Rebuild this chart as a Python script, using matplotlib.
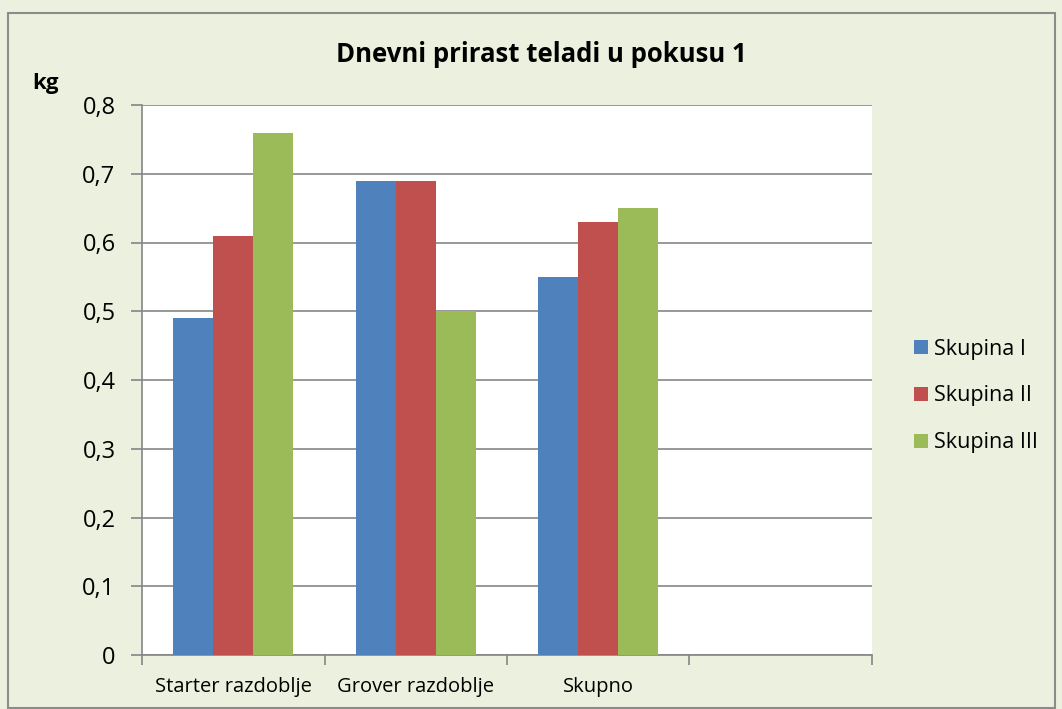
import matplotlib
matplotlib.use("Agg")
import matplotlib.pyplot as plt
import numpy as np
from matplotlib.patches import Rectangle

categories = ["Starter razdoblje", "Grover razdoblje", "Skupno", ""]
series_names = ["Skupina I", "Skupina II", "Skupina III"]
skupina_1 = [0.49, 0.69, 0.55]
skupina_2 = [0.61, 0.69, 0.63]
skupina_3 = [0.76, 0.50, 0.65]
colors = ["#4F81BD", "#C0504D", "#9BBB59"]
y_ticks = [0, 0.1, 0.2, 0.3, 0.4, 0.5, 0.6, 0.7, 0.8]
y_labels = ["0", "0,1", "0,2", "0,3", "0,4", "0,5", "0,6", "0,7", "0,8"]

plt.rcParams['font.family'] = ['Open Sans', 'DejaVu Sans']
bg = "#EBF1DE"
fig = plt.figure(figsize=(10.62, 7.09), dpi=100, facecolor=bg)
W, H = 1062, 709
fig.patches.append(Rectangle((8 / W, 1 - 708 / H), (1055 - 8) / W, (708 - 13) / H,
                             transform=fig.transFigure, fill=False,
                             edgecolor="#8C8C8C", linewidth=1.5, zorder=0))

ax = fig.add_axes([142 / W, 1 - 655 / H, (872 - 142) / W, (655 - 105) / H])
ax.set_facecolor("white")
x = np.arange(len(categories)) + 0.5
bw = 0.22
for i, (vals, name, c) in enumerate(zip([skupina_1, skupina_2, skupina_3], series_names, colors)):
    ax.bar(x[:3] + (i - 1) * bw, vals, width=bw, color=c, label=name, zorder=3)

ax.set_xlim(0, 4)
ax.set_ylim(0, 0.8)
ax.set_yticks(y_ticks)
ax.set_yticklabels(y_labels, fontsize=17)
ax.yaxis.grid(True, color="#868686", linewidth=1.2, zorder=0)
ax.set_xticks([0, 1, 2, 3, 4])
ax.set_xticklabels([])
ax.set_xticks(x, categories, minor=True)
ax.tick_params(axis='x', which='minor', length=0, labelsize=14.5, pad=16)
ax.tick_params(axis='x', which='major', length=7, color="#868686", width=1.2)
ax.tick_params(axis='y', length=8, color="#868686", width=1.2, pad=11)
for s in ["top", "right"]:
    ax.spines[s].set_visible(False)
for s in ["left", "bottom"]:
    ax.spines[s].set_color("#868686")
    ax.spines[s].set_linewidth(1.2)

fig.text(541 / W, 1 - 55 / H, "Dnevni prirast teladi u pokusu 1", ha="center", va="center",
         fontsize=18.5, fontweight="bold")
fig.text(45 / W, 1 - 83 / H, "kg", ha="center", va="center", fontsize=16, fontweight="bold")

leg = fig.legend(loc="center left", bbox_to_anchor=(914 / W, 1 - 396 / H), frameon=False,
                 fontsize=15.5, handlelength=0.65, handleheight=0.65, handletextpad=0.3,
                 labelspacing=1.2, borderpad=0, borderaxespad=0)

fig.savefig("out.png", dpi=100, facecolor=bg)
